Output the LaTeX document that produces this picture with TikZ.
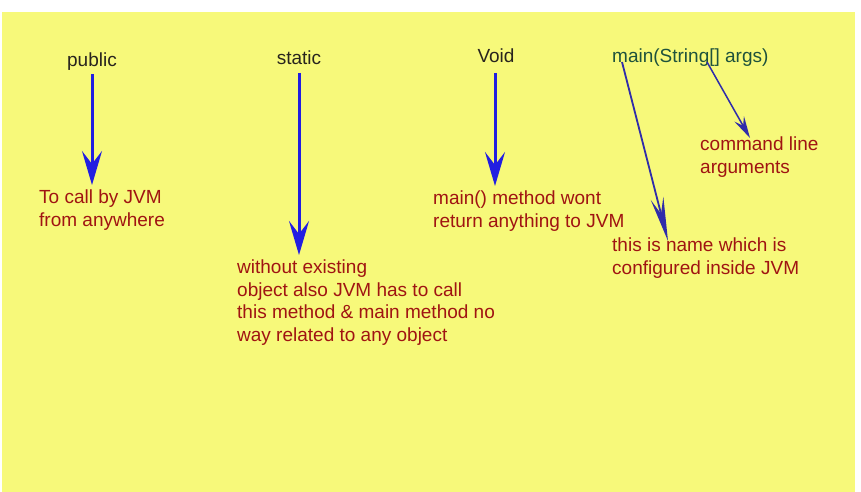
\documentclass[tikz,border=0pt]{standalone}
\usepackage{fontspec}
\setmainfont{Liberation Sans}
\usetikzlibrary{arrows.meta}

\definecolor{notepad}{RGB}{247,249,122}
\definecolor{kwink}{RGB}{40,36,30}
\definecolor{mainink}{RGB}{30,82,60}
\definecolor{noteink}{RGB}{160,20,18}
\definecolor{arrblue}{RGB}{34,30,225}
\definecolor{arrnavy}{RGB}{48,44,170}

\begin{document}
\begin{tikzpicture}[
    x=1pt, y=-1pt,
    kw/.style={
        font=\fontsize{19}{23}\selectfont,
        text=kwink,
        inner sep=0pt,
        anchor=base
    },
    note/.style={
        font=\fontsize{19}{22.5}\selectfont,
        text=noteink,
        inner sep=0pt,
        align=left,
        anchor=north west
    },
    arr/.style={
        -{Stealth[length=34pt, width=20pt, inset=13pt]},
        line width=3pt,
        draw=arrblue,
        shorten >=5pt
    },
    thinarr/.style={
        -{Stealth[length=22pt, width=11pt, inset=8pt]},
        line width=1.8pt,
        draw=arrnavy
    }
]
    \useasboundingbox (0,0) rectangle (861,492);
    \fill[white] (0,0) rectangle (861,492);
    \fill[notepad] (2,12) rectangle (855,492);

    \node[kw] (kwpublic) at (92,67) {public};
    \node[kw] (kwstatic) at (299,65) {static};
    \node[kw] (kwvoid) at (496,63) {Void};
    \node[kw, text=mainink, anchor=base west] (kwmain) at (612,63)
        {main(String[] args)};

    \node[note] (descpublic) at (39,190)
        {To call by JVM\\from anywhere};
    \node[note] (descstatic) at (237,260)
        {without existing\\object also JVM has to call\\this method \& main method no\\way related to any object};
    \node[note] (descvoid) at (433,191)
        {main() method wont\\return anything to JVM};
    \node[note] (desccmd) at (700,137)
        {command line\\arguments};
    \node[note] (descname) at (612,238)
        {this is name which is\\configured inside JVM};

    \draw[arr] ([yshift=-7pt]kwpublic.base) -- (kwpublic.base |- descpublic.north);
    \draw[arr] ([yshift=-8pt]kwstatic.base) -- (kwstatic.base |- descstatic.north);
    \draw[arr] ([xshift=-1pt,yshift=-10pt]kwvoid.base) -- ([xshift=-1pt]kwvoid.base |- descvoid.north);

    \draw[thinarr, -{Stealth[length=44pt, width=13pt, inset=16pt]}]
        ([xshift=10pt,yshift=1pt]kwmain.base west) -- ([xshift=56pt,yshift=-3pt]descname.north west);
    \draw[thinarr, line width=1.5pt]
        ([xshift=95pt,yshift=1pt]kwmain.base west) -- ([xshift=50pt,yshift=-1pt]desccmd.north west);
\end{tikzpicture}
\end{document}
